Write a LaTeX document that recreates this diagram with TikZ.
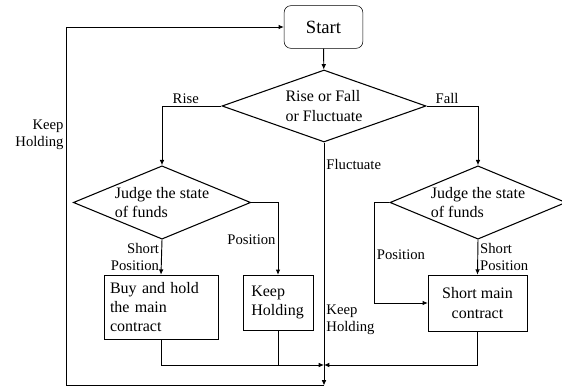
\documentclass[tikz,border=0pt]{standalone}
\usepackage{fontspec}
\setmainfont{Liberation Serif}
\usetikzlibrary{positioning,arrows.meta,shapes.geometric}

\begin{document}
\begin{tikzpicture}[
    x=0.75pt, y=-0.75pt,
    every node/.style={inner sep=2pt},
    term/.style={draw, rounded corners=5pt, minimum width=59pt, minimum height=32pt, font=\fontsize{14}{16}\selectfont},
    dec/.style={draw, diamond, inner sep=0pt, align=left, line width=0.8pt, font=\fontsize{12}{14.5}\selectfont},
    act/.style={draw, align=left, minimum height=42pt, font=\fontsize{12}{14.5}\selectfont},
    lbl/.style={font=\fontsize{11}{12.5}\selectfont, inner sep=1.5pt},
    arr/.style={-{Latex[length=4pt,width=3.5pt]}, line width=0.7pt},
    ln/.style={line width=0.7pt},
]
\useasboundingbox (0,0) rectangle (562,388);

% Start and first decision
\node[term] (start) at (323.5,27) {Start};
\node[dec, minimum width=153pt, minimum height=54pt, aspect=2.8] (trend) at (324,106) {Rise or Fall\\or Fluctuate};

% Second decisions
\node[dec, minimum width=133pt, minimum height=55pt, aspect=2.4] (fundsL) at (162,202.5) {Judge the state\\of funds};
\node[dec, minimum width=132pt, minimum height=55pt, aspect=2.4] (fundsR) at (478,202.5) {Judge the state\\of funds};

% Actions
\node[act, text width=76.5pt, inner xsep=4.5pt, minimum height=48pt] (buy) at (161,307) {Buy and hold\\the main\\contract};
\node[act, text width=40pt, inner xsep=6.25pt, minimum height=41pt] (keep) at (278,302.5) {Keep\\Holding};
\node[act, align=center, minimum width=74pt] (short) at (477.5,303) {Short main\\contract};

% Junction points
\coordinate (join) at (324,365);
\coordinate (loop) at (324,385.5);
\coordinate (back) at (66,385.5);

% Arrows
\draw[arr] (start) -- (trend);
\draw[arr] (trend.west) -| node[lbl, above, pos=0.3] {Rise} (fundsL.north);
\draw[arr] (trend.east) -| node[lbl, above, pos=0.2] {Fall} (fundsR.north);
\draw[arr] (trend.south) -- node[lbl, right, pos=0.09] {Fluctuate}
    node[lbl, right, align=left, pos=0.73] {Keep\\Holding} (loop);

\draw[arr] (fundsL.south) -- node[lbl, left, align=right] {Short\\Position} (buy.north);
\draw[arr] (fundsL.east) -| node[lbl, left, pos=0.76] {Position} (keep.north);
\draw[arr] (fundsR.south) -- node[lbl, right, align=left] {Short\\Position} (short.north);
\draw[arr] (fundsR.west) -- ++(-15,0) |- node[lbl, right, pos=0.26] {Position} (short.west);

\draw[arr] (buy.south) |- (join);
\draw[ln] (keep.south) -- (keep.south |- join);
\draw[arr] (short.south) |- (join);

\draw[arr] (loop) -- (back) |- node[lbl, left, align=right, pos=0.35] {Keep\\Holding} (start.west);
\end{tikzpicture}
\end{document}
